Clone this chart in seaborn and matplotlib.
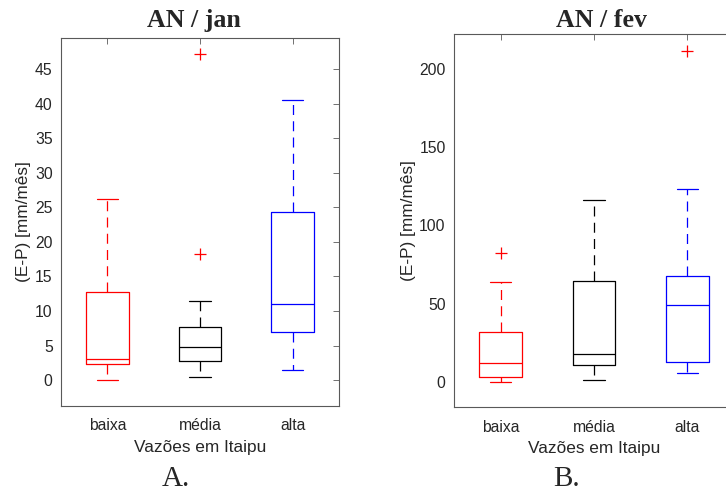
"""
Boxplots (E-P) por classe de vazão em Itaipu, janeiro e fevereiro (estilo MATLAB).
"""
import matplotlib
matplotlib.use("Agg")
import pandas as pd
import matplotlib.pyplot as plt
import seaborn as sns

# Classes de vazão e cores de cada caixa
categories = ['baixa', 'média', 'alta']
box_colors = ['#ff0000', '#000000', '#0000ff']

# AN / jan: estatísticas (bigode inf., Q1, mediana, Q3, bigode sup.)
jan_low = [0.0, 0.43, 1.5]
jan_q1 = [2.27, 2.7, 6.9]
jan_median = [3.04, 4.78, 11.05]
jan_q3 = [12.7, 7.72, 24.3]
jan_high = [26.2, 11.4, 40.6]
jan_outlier_group = ['média', 'média']
jan_outlier_value = [18.2, 47.2]

# AN / fev
fev_low = [0.25, 1.7, 6.0]
fev_q1 = [3.4, 10.8, 13.2]
fev_median = [12.4, 18.1, 49.1]
fev_q3 = [32.1, 64.4, 67.8]
fev_high = [64.2, 116.4, 122.9]
fev_outlier_group = ['baixa', 'alta']
fev_outlier_value = [82.5, 211.0]

jan_yticks = [0, 5, 10, 15, 20, 25, 30, 35, 40, 45]
fev_yticks = [0, 50, 100, 150, 200]

sns.set_style("white")
plt.rcParams['font.family'] = ['Liberation Sans', 'DejaVu Sans']

TEXT_COLOR = '#262626'
AXIS_COLOR = '#595959'


def summary_frame(low, q1, med, q3, high):
    """Monta um DataFrame longo com os 5 números de cada classe."""
    rows = []
    for i, cat in enumerate(categories):
        for v in (low[i], q1[i], med[i], q3[i], high[i]):
            rows.append({'grupo': cat, 'valor': v})
    return pd.DataFrame(rows)


def draw_panel(ax, df, out_df, ylim, yticks):
    sns.boxplot(data=df, x='grupo', y='valor', hue='grupo', order=categories,
                hue_order=categories, palette=box_colors, fill=False, width=0.46,
                whis=(0, 100), showfliers=False, linewidth=0.9, dodge=False,
                legend=False, ax=ax,
                whiskerprops={'linestyle': (0, (8, 5))})
    sns.stripplot(data=out_df, x='grupo', y='valor', order=categories, color='#ff0000',
                  marker='+', size=8, linewidth=0.9, jitter=False, ax=ax)

    ax.set_xlim(-0.5, 2.5)
    ax.set_ylim(*ylim)
    ax.set_yticks(yticks)
    ax.set_xticks(range(len(categories)))
    ax.set_xticklabels(categories)
    for sp in ax.spines.values():
        sp.set_visible(True)
        sp.set_color(AXIS_COLOR)
        sp.set_linewidth(0.8)
    ax.tick_params(direction='in', top=True, right=True, length=4, width=0.6,
                   color=AXIS_COLOR, labelcolor=TEXT_COLOR, labelsize=11.3, pad=6)
    ax.tick_params(axis='x', pad=9)
    ax.set_xlabel('Vazões em Itaipu', fontsize=12.4, color=TEXT_COLOR, labelpad=5)
    ax.set_ylabel('(E-P) [mm/mês]', fontsize=12.4, color=TEXT_COLOR, labelpad=2.5)


fig = plt.figure(figsize=(7.26, 4.92), dpi=100)
ax_jan = fig.add_axes([61 / 726, 1 - 406 / 492, 278 / 726, 368 / 492])
ax_fev = fig.add_axes([454 / 726, 1 - 407 / 492, 280 / 726, 373 / 492])

draw_panel(ax_jan, summary_frame(jan_low, jan_q1, jan_median, jan_q3, jan_high),
           pd.DataFrame({'grupo': jan_outlier_group, 'valor': jan_outlier_value}),
           (-3.75, 49.5), jan_yticks)
draw_panel(ax_fev, summary_frame(fev_low, fev_q1, fev_median, fev_q3, fev_high),
           pd.DataFrame({'grupo': fev_outlier_group, 'valor': fev_outlier_value}),
           (-15.8, 222.0), fev_yticks)

serif = ['Liberation Serif', 'DejaVu Serif']
fig.text(193.5 / 726, 1 - 26.7 / 492, 'AN / jan', ha='center', va='baseline',
         fontsize=18.6, fontweight='bold', family=serif)
fig.text(602 / 726, 1 - 26.7 / 492, 'AN / fev', ha='center', va='baseline',
         fontsize=18.6, fontweight='bold', family=serif)
fig.text(176 / 726, 1 - 486.5 / 492, 'A.', ha='center', va='baseline',
         fontsize=21, family=serif)
fig.text(567 / 726, 1 - 486.5 / 492, 'B.', ha='center', va='baseline',
         fontsize=21, family=serif)

fig.savefig('out.png', dpi=100)
